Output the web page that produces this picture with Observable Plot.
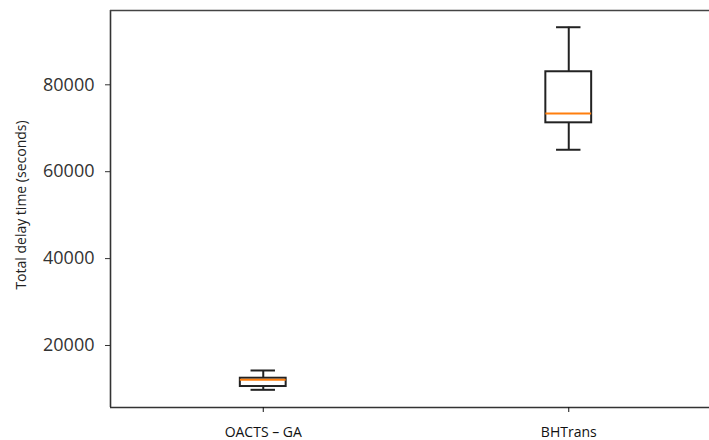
<!DOCTYPE html>
<html>
<head>
<meta charset="utf-8">
<script src="https://cdn.jsdelivr.net/npm/d3@7"></script>
<script src="https://cdn.jsdelivr.net/npm/@observablehq/plot@0.6"></script>
<style>
  html, body { margin: 0; padding: 0; background: #fff; overflow: hidden; }
  #chart { width: 709px; height: 440px; overflow: hidden; }
  #chart svg { display: block; }
</style>
</head>
<body>
<div id="chart"></div>
<script>
// Summary statistics
const categories = ["OACTS – GA", "BHTrans"];
const positions = [1, 2];
const whiskerLow = [9800, 65050];
const q1 = [10560, 71250];
const median = [12100, 73400];
const q3 = [12470, 83000];
const whiskerHigh = [14250, 93250];
const yTicks = [20000, 40000, 60000, 80000];

// axes limits (the reference's axes box is cropped on the right)
const xLim = [0.5, 2.4607];
const yLim = [5730, 97100];

const boxes = categories.map((c, i) => ({
  name: c, pos: positions[i],
  lo: whiskerLow[i], q1: q1[i], med: median[i], q3: q3[i], hi: whiskerHigh[i]
}));

const half = 0.075;   // half box width in x units
const cap = 0.04;     // half cap width

const chart = Plot.plot({
  width: 709,
  height: 440,
  marginLeft: 110,
  marginRight: 0,
  marginTop: 10,
  marginBottom: 33,
  style: { fontFamily: "'Open Sans', sans-serif", background: "#fff" },
  x: { type: "linear", domain: xLim },
  y: { domain: yLim },
  marks: [
    Plot.ruleX(boxes, { x: "pos", y1: "q3", y2: "hi", stroke: "#222", strokeWidth: 2 }),
    Plot.ruleX(boxes, { x: "pos", y1: "lo", y2: "q1", stroke: "#222", strokeWidth: 2 }),
    Plot.ruleY(boxes, { y: "hi", x1: d => d.pos - cap, x2: d => d.pos + cap, stroke: "#222", strokeWidth: 2 }),
    Plot.ruleY(boxes, { y: "lo", x1: d => d.pos - cap, x2: d => d.pos + cap, stroke: "#222", strokeWidth: 2 }),
    Plot.rect(boxes, { x1: d => d.pos - half, x2: d => d.pos + half, y1: "q1", y2: "q3", fill: "white", stroke: "#222", strokeWidth: 2 }),
    Plot.ruleY(boxes, { y: "med", x1: d => d.pos - half, x2: d => d.pos + half, stroke: "#ff7f0e", strokeWidth: 2 }),
    // axes spines (left, bottom, top)
    Plot.ruleX([xLim[0]], { y1: yLim[0], y2: yLim[1], stroke: "#333", strokeWidth: 1.6 }),
    Plot.ruleY([yLim[0]], { x1: xLim[0], x2: xLim[1], stroke: "#333", strokeWidth: 1.6 }),
    Plot.ruleY([yLim[1]], { x1: xLim[0], x2: xLim[1], stroke: "#444", strokeWidth: 1.6 }),
    Plot.axisY(yTicks, {
      ticks: yTicks, tickSize: 5, tickPadding: 11, tickFormat: d => String(d),
      fontSize: 18, color: "#333", label: null
    }),
    Plot.axisX(positions, {
      ticks: positions, tickSize: 5, tickPadding: 15,
      tickFormat: d => categories[positions.indexOf(d)],
      fontSize: 14, color: "#111", label: null
    }),
    Plot.text(["Total delay time (seconds)"], {
      frameAnchor: "left", dx: -89, dy: -4, rotate: -90,
      fontSize: 14, fill: "#222", textAnchor: "middle"
    })
  ]
});

document.getElementById("chart").appendChild(chart);
</script>
</body>
</html>
